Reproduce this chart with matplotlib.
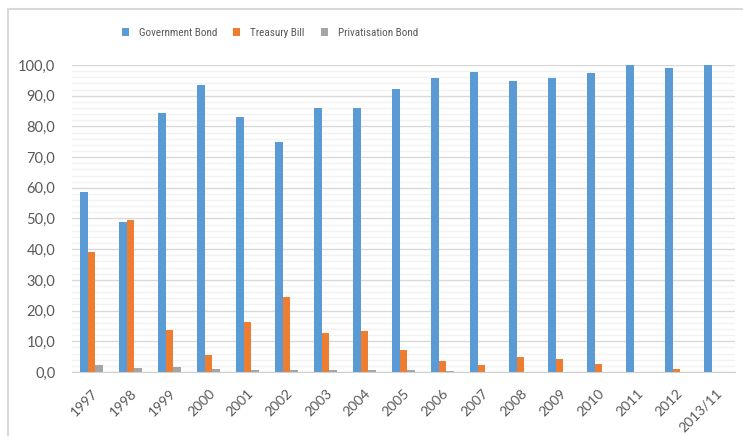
import matplotlib.pyplot as plt
import numpy as np
from matplotlib import font_manager
from matplotlib.lines import Line2D
from matplotlib.ticker import MultipleLocator, FuncFormatter

plt.rcParams['font.family'] = ['Lato', 'DejaVu Sans']

# narrow face for the legend if one is available
installed = {f.name for f in font_manager.fontManager.ttflist}
legend_font = next((n for n in ['Liberation Sans Narrow', 'Roboto Condensed',
                                'Open Sans Condensed', 'Noto Sans Condensed']
                    if n in installed), 'Lato')
legend_size = 8.0 if legend_font != 'Lato' else 7

years = ['1997', '1998', '1999', '2000', '2001', '2002', '2003', '2004', '2005',
         '2006', '2007', '2008', '2009', '2010', '2011', '2012', '2013/11']
government_bond = [58.5, 48.9, 84.5, 93.4, 83.2, 74.8, 86.1, 85.9, 92.3,
                   95.9, 97.6, 94.9, 95.8, 97.3, 100.0, 99.0, 100.0]
treasury_bill = [39.0, 49.4, 13.8, 5.5, 16.2, 24.4, 12.8, 13.3, 7.2,
                 3.7, 2.3, 5.0, 4.1, 2.7, 0.0, 0.9, 0.0]
privatisation_bond = [2.4, 1.4, 1.5, 1.0, 0.6, 0.6, 0.7, 0.6, 0.5,
                      0.3, 0.0, 0.0, 0.0, 0.0, 0.0, 0.0, 0.0]

series = [
    ('Government Bond', government_bond, '#5B9BD5'),
    ('Treasury Bill', treasury_bill, '#ED7D31'),
    ('Privatisation Bond', privatisation_bond, '#A5A5A5'),
]

fig = plt.figure(figsize=(7.43, 4.36), dpi=100)

# chart area border (top and left edges only)
bx, by = 8 / 743, 1 - 9 / 436
fig.add_artist(Line2D([bx, 1.0], [by, by], transform=fig.transFigure,
                      color='#D9D9D9', linewidth=1.5))
fig.add_artist(Line2D([bx, bx], [0, by], transform=fig.transFigure,
                      color='#D9D9D9', linewidth=1.5))

ax = fig.add_axes([72 / 743, 1 - 372 / 436, (735 - 72) / 743, (372 - 65) / 436])

x = np.arange(len(years))
w = 0.205
for i, (name, vals, col) in enumerate(series):
    ax.bar(x + (i - 1) * w, vals, width=w, color=col, label=name, zorder=3)

ax.set_xlim(-0.5, len(years) - 0.5)
ax.set_ylim(0, 100)
ax.yaxis.set_major_locator(MultipleLocator(10))
ax.yaxis.set_minor_locator(MultipleLocator(2))
ax.yaxis.set_major_formatter(FuncFormatter(lambda v, p: f'{v:.1f}'.replace('.', ',')))
ax.grid(axis='y', which='major', color='#D9D9D9', linewidth=1, zorder=0)
ax.grid(axis='y', which='minor', color='#F2F2F2', linewidth=1, zorder=0)

for s in ['top', 'right', 'left']:
    ax.spines[s].set_visible(False)
ax.spines['bottom'].set_color('#D0D0D0')
ax.spines['bottom'].set_zorder(4)

ax.tick_params(axis='both', which='both', length=0, colors='#595959', labelsize=10.5)
ax.tick_params(axis='y', pad=12)
ax.set_xticks(x)
ax.set_xticklabels(years, rotation=45, ha='right', va='top', rotation_mode='anchor',
                   fontsize=10)
ax.tick_params(axis='x', pad=11)

fig.legend(loc='center', bbox_to_anchor=(270 / 743, 1 - 33 / 436), ncol=3,
           frameon=False, handlelength=0.65, handleheight=0.65, handletextpad=0.9,
           columnspacing=1.45, labelcolor='#595959',
           prop={'family': legend_font, 'size': legend_size})

fig.savefig('out.png', dpi=100)
